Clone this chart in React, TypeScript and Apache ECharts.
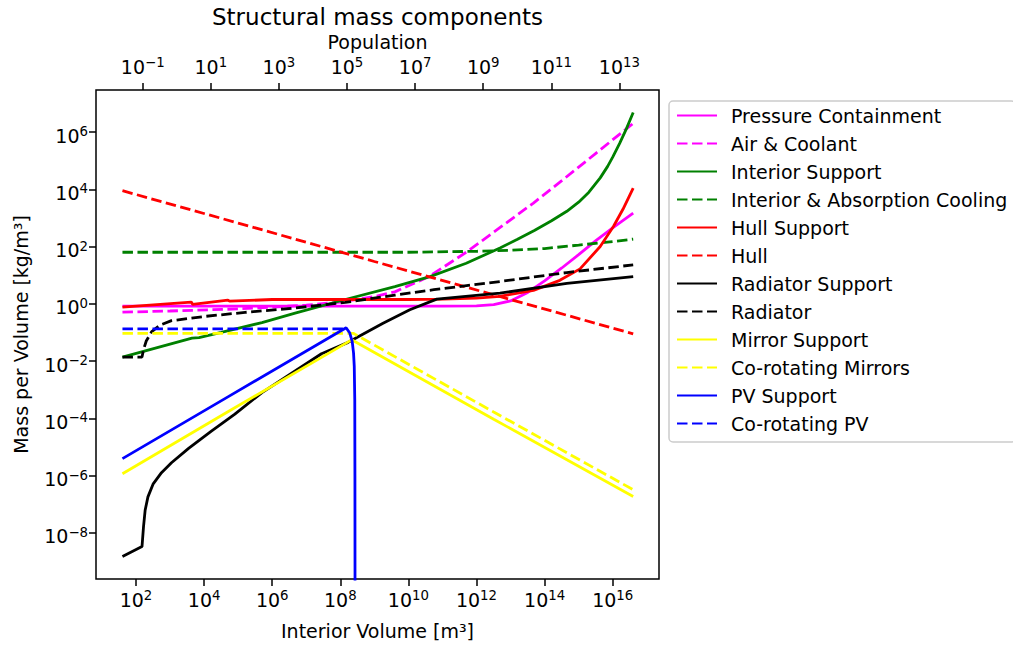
import React, { useEffect, useRef } from "react";
import * as echarts from "echarts";

const FONT = "DejaVu Sans";

// Tick exponents (decades) shown on the axes
const volumeTickExps = [2, 4, 6, 8, 10, 12, 14, 16];
const populationTickExps = [-1, 1, 3, 5, 7, 9, 11, 13];
const massTickExps = [-8, -6, -4, -2, 0, 2, 4, 6];

// Axis extents (log10 units) and population offset (volume per person)
const volumeLogMin = 0.825;
const volumeLogMax = 17.36;
const popOffsetLog = 3.197;
const massLogMin = -9.613;
const massLogMax = 7.467;

const seriesNames = [
  "Pressure Containment",
  "Air & Coolant",
  "Interior Support",
  "Interior & Absorption Cooling",
  "Hull Support",
  "Hull",
  "Radiator Support",
  "Radiator",
  "Mirror Support",
  "Co-rotating Mirrors",
  "PV Support",
  "Co-rotating PV",
];

// ---- data: interior volume [m^3] and mass per volume [kg/m^3] ----
const pressureVol = [40, 1e4, 1e8, 1e11, 1e12, 3.2e12, 1e13, 3.2e13, 1e14, 3.2e14, 1e15, 3.2e15, 1e16, 4e16];
const pressureVal = [0.83, 0.83, 0.83, 0.83, 0.85, 0.93, 1.26, 2.5, 6.3, 17.8, 52, 160, 450, 1480];

const airVol = [40, 1e3, 1e5, 1e7, 1e8, 1e9, 4e9, 4e10, 5e11, 3.2e12, 4.7e13, 3.2e14, 3.2e15, 4e16];
const airVal = [0.51, 0.56, 0.66, 0.89, 1.15, 1.78, 2.6, 8.9, 63, 316, 3300, 2e4, 1.8e5, 2e6];

const intSupVol = [40, 4400, 7100, 3.2e4, 5e5, 4.7e6, 1.4e8, 4e9, 4.3e10, 5e11, 4.9e12, 1.6e13, 5e13, 1.6e14, 4.5e14, 1e15, 2e15, 4.3e15, 7.1e15, 1e16, 1.6e16, 2.5e16, 4e16];
const intSupVal = [0.0138, 0.063, 0.066, 0.1, 0.22, 0.47, 1.41, 4.0, 8.9, 26, 89, 178, 363, 794, 1700, 3550, 7940, 2.5e4, 6.3e4, 1.32e5, 4e5, 1.26e6, 4.8e6];

const intCoolVol = [40, 1e6, 1e10, 1e12, 1e13, 1e14, 1e15, 1e16, 4e16];
const intCoolVal = [63, 63, 63, 68, 74, 85, 112, 148, 182];

const hullSupVol = [40, 4200, 4600, 5e4, 5.6e4, 1e6, 1e8, 1e10, 1e11, 1e12, 4.9e12, 4.7e13, 2.8e14, 1.1e15, 4.3e15, 1.05e16, 2e16, 4e16];
const hullSupVal = [0.76, 1.15, 0.95, 1.35, 1.23, 1.41, 1.41, 1.41, 1.45, 1.58, 1.82, 2.95, 6.6, 16.6, 100, 500, 2000, 1.1e4];

const hullVol = [40, 1e5, 1e9, 1e13, 4e16];
const hullVal = [8900, 660, 30, 1.41, 0.089];

const radSupVol = [40, 150, 166, 186, 224, 316, 560, 1100, 3500, 1.6e4, 8e4, 5e5, 4.7e6, 2.8e7, 1.7e8, 1.8e9, 1.1e10, 6.8e10, 4.9e12, 4.5e14, 4e16];
const radSupVal = [1.5e-9, 3.3e-9, 1.6e-8, 6.3e-8, 1.8e-7, 5e-7, 1.26e-6, 2.8e-6, 8.9e-6, 3.5e-5, 1.4e-4, 7.9e-4, 4.5e-3, 0.018, 0.045, 0.21, 0.62, 1.45, 2.35, 5.2, 8.9];

const radVol = [40, 150, 166, 200, 290, 500, 1100, 1.07e4, 1.6e5, 4.7e6, 1.4e8, 4e9, 5.6e10, 4.9e12, 4.5e14, 4e16];
const radVal = [0.0138, 0.0138, 0.025, 0.05, 0.107, 0.178, 0.257, 0.363, 0.5, 0.71, 1.12, 2.0, 3.1, 6.0, 12.3, 22.9];

const mirSupVol = [40, 5e4, 2.15e8, 3.2e12, 4e16];
const mirSupVal = [1.15e-6, 1.7e-4, 0.055, 9.3e-5, 1.86e-7];

const mirVol = [40, 1e5, 2.4e8, 3.2e12, 4e16];
const mirVal = [0.093, 0.093, 0.093, 1.66e-4, 3.2e-7];

const pvSupVol = [40, 5e4, 1.48e8, 1.9e8, 2.24e8, 2.45e8, 2.57e8, 2.66e8, 2.69e8, 2.716e8];
const pvSupVal = [3.9e-6, 5.6e-4, 0.145, 0.095, 0.048, 0.019, 6.5e-3, 4.5e-4, 1e-6, 1e-12];

const pvVol = [40, 1e5, 1.48e8];
const pvVal = [0.132, 0.132, 0.132];

const seriesData: [number[], number[], string, boolean][] = [
  [pressureVol, pressureVal, "#ff00ff", false],
  [airVol, airVal, "#ff00ff", true],
  [intSupVol, intSupVal, "#008000", false],
  [intCoolVol, intCoolVal, "#008000", true],
  [hullSupVol, hullSupVal, "#ff0000", false],
  [hullVol, hullVal, "#ff0000", true],
  [radSupVol, radSupVal, "#000000", false],
  [radVol, radVal, "#000000", true],
  [mirSupVol, mirSupVal, "#ffff00", false],
  [mirVol, mirVal, "#ffff00", true],
  [pvSupVol, pvSupVal, "#0000ff", false],
  [pvVol, pvVal, "#0000ff", true],
];

const LW = 2.8;
const DASH = [10.5, 4.5];

function powLabel(v: number): string {
  const e = Math.round(v);
  const s = e < 0 ? "\u2212" + Math.abs(e) : String(e);
  return `{b|10}{s|${s}}`;
}

const richStyle = {
  b: { fontSize: 19, fontFamily: FONT, color: "#000", lineHeight: 20, verticalAlign: "bottom" },
  s: { fontSize: 13.3, fontFamily: FONT, color: "#000", lineHeight: 8, verticalAlign: "top" },
};

export default function App() {
  const ref = useRef<HTMLDivElement>(null);
  useEffect(() => {
    if (!ref.current) return;
    const chart = echarts.init(ref.current, undefined, { renderer: "svg" });

    const series = seriesData.map(([vols, vals, color, dashed], i) => ({
      name: seriesNames[i],
      type: "line",
      xAxisIndex: 0,
      yAxisIndex: 0,
      data: vols.map((v, k) => [Math.log10(v), Math.log10(vals[k])]),
      showSymbol: false,
      symbol: "none",
      clip: true,
      lineStyle: { color, width: LW, type: dashed ? DASH : "solid", cap: "butt" },
      itemStyle: { color },
      emphasis: { disabled: true },
    }));

    const tickStyle = { show: true, length: 7, inside: false, lineStyle: { color: "#000", width: 1.5 } };
    const noLine = { show: false, onZero: false };

    chart.setOption({
      animation: false,
      backgroundColor: "#ffffff",
      grid: {
        left: 96,
        top: 90,
        width: 563,
        height: 489,
        show: true,
        borderColor: "#000",
        borderWidth: 1.5,
        backgroundColor: "transparent",
        containLabel: false,
        outerBoundsMode: "none",
      },
      graphic: [
        {
          type: "text",
          x: 377.5,
          y: 17,
          style: {
            text: "Structural mass components",
            fontSize: 23,
            fontFamily: FONT,
            fill: "#000",
            align: "center",
            verticalAlign: "middle",
          },
        },
      ],
      legend: {
        orient: "vertical",
        left: 669,
        top: 101,
        padding: [5, 8, 9, 7],
        itemWidth: 40,
        itemHeight: 19,
        itemGap: 9,
        borderColor: "#cccccc",
        borderWidth: 1.5,
        borderRadius: 4,
        backgroundColor: "rgba(255,255,255,0.8)",
        selectedMode: false,
        data: seriesNames,
        itemStyle: { opacity: 0, color: "transparent", borderWidth: 0 },
        textStyle: { fontSize: 19, fontFamily: FONT, color: "#000", lineHeight: 19, padding: [0, 0, 0, 9] },
      },
      xAxis: [
        {
          type: "value",
          position: "bottom",
          min: volumeLogMin,
          max: volumeLogMax,
          name: "Interior Volume [m³]",
          nameLocation: "middle",
          nameGap: 42,
          nameTextStyle: { fontSize: 19, fontFamily: FONT, color: "#000" },
          axisLine: noLine,
          splitLine: { show: false },
          axisTick: { ...tickStyle, customValues: volumeTickExps },
          axisLabel: {
            customValues: volumeTickExps,
            margin: 10,
            formatter: powLabel,
            rich: richStyle,
          },
        },
        {
          type: "value",
          position: "top",
          min: volumeLogMin - popOffsetLog,
          max: volumeLogMax - popOffsetLog,
          name: "Population",
          nameLocation: "middle",
          nameGap: 37,
          nameTextStyle: { fontSize: 19, fontFamily: FONT, color: "#000" },
          axisLine: noLine,
          splitLine: { show: false },
          axisTick: { ...tickStyle, customValues: populationTickExps },
          axisLabel: {
            customValues: populationTickExps,
            margin: 14,
            formatter: powLabel,
            rich: richStyle,
          },
        },
      ],
      yAxis: [
        {
          type: "value",
          position: "left",
          min: massLogMin,
          max: massLogMax,
          name: "Mass per Volume [kg/m³]",
          nameLocation: "middle",
          nameGap: 66,
          nameTextStyle: { fontSize: 19, fontFamily: FONT, color: "#000" },
          axisLine: noLine,
          splitLine: { show: false },
          axisTick: { ...tickStyle, customValues: massTickExps },
          axisLabel: {
            customValues: massTickExps,
            margin: 8,
            padding: [6, 0, 0, 0],
            formatter: powLabel,
            rich: richStyle,
          },
        },
      ],
      series,
    });
    return () => chart.dispose();
  }, []);
  return (
    <div
      ref={ref}
      style={{ position: "fixed", left: 0, top: 0, width: 1013, height: 645, background: "#fff" }}
    />
  );
}
